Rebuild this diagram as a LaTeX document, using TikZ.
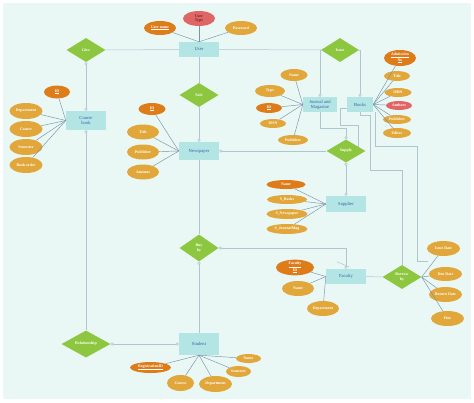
\documentclass[tikz,border=0pt]{standalone}
\usepackage{fontspec}
\setmainfont{Liberation Serif}
\usetikzlibrary{positioning,shapes.geometric,arrows.meta}
\tikzstyle{canvas} = [x = 1pt, y = -1pt]
\definecolor{pageColor}{RGB}{233,247,245}
\definecolor{entityColor}{RGB}{178,229,228}
\definecolor{entityText}{RGB}{52,98,170}
\definecolor{relColor}{RGB}{141,198,63}
\definecolor{attrColor}{RGB}{226,167,58}
\definecolor{keyColor}{RGB}{222,124,26}
\definecolor{multiColor}{RGB}{224,102,102}
\definecolor{typeText}{RGB}{110,30,30}
\definecolor{linkColor}{RGB}{176,198,206}
\definecolor{attrLineColor}{RGB}{120,148,168}
\tikzstyle{entityStyle} = [rectangle, fill=entityColor, text=entityText, inner sep=0pt, align=center, font=\fontsize{4.6}{5.2}\selectfont]
\tikzstyle{relStyle} = [diamond, fill=relColor, text=white, inner sep=0pt, align=center, font=\bfseries\fontsize{4}{4.6}\selectfont]
\tikzstyle{attrStyle} = [ellipse, fill=attrColor, text=white, inner sep=0pt, align=center, font=\bfseries\fontsize{3.9}{4.4}\selectfont]
\tikzstyle{keyStyle} = [attrStyle, fill=keyColor]
\tikzstyle{multiStyle} = [attrStyle, fill=multiColor]
\tikzstyle{linkLine} = [color=linkColor, line width=.5pt]
\tikzstyle{attrLine} = [color=attrLineColor, line width=.45pt]
\tikzstyle{ringEnd} = [-{Circle[open, length=3pt, width=3pt]}]
\tikzstyle{ringStart} = [{Circle[open, length=3pt, width=3pt]}-]
\tikzstyle{ringBoth} = [{Circle[open, length=3pt, width=3pt]}-{Circle[open, length=3pt, width=3pt]}]
% name, x, y, width, height, text
\newcommand{\entityBox}[6]{\node [entityStyle, minimum width=#4pt, minimum height=#5pt] (#1) at (#2, #3) {#6};}
\newcommand{\relDiamond}[6]{\node [relStyle, minimum width=#4pt, minimum height=#5pt] (#1) at (#2, #3) {#6};}
\newcommand{\attrOval}[6]{\node [attrStyle, minimum width=#4pt, minimum height=#5pt] (#1) at (#2, #3) {#6};}
\newcommand{\keyOval}[6]{\node [keyStyle, minimum width=#4pt, minimum height=#5pt] (#1) at (#2, #3) {#6};}
\newcommand{\multiOval}[6]{\node [multiStyle, minimum width=#4pt, minimum height=#5pt] (#1) at (#2, #3) {#6};}
\begin{document}
\begin{tikzpicture}[canvas]
  \useasboundingbox (0,0) rectangle (474,402);
  \fill [white] (0,0) rectangle (474,402);
  \fill [pageColor] (3,3) rectangle (471,399);
  % entities
  \entityBox{user}{199}{49.5}{40}{15}{User}
  \entityBox{courseBook}{86}{120.5}{40}{19}{Course\\book}
  \entityBox{newspaper}{199}{151}{40}{18}{Newspaper}
  \entityBox{journal}{320}{104.5}{34}{15}{Journal and\\Magazine}
  \entityBox{books}{360}{104.5}{26}{15}{Books}
  \entityBox{supplier}{346}{204}{40}{16}{Supplier}
  \entityBox{faculty}{346}{276.5}{40}{15}{Faculty}
  \entityBox{student}{199}{344}{40}{22}{Student}
  % relationships
  \relDiamond{give}{86}{50}{39}{24}{Give}
  \relDiamond{issue}{340}{50}{38}{24}{Issue}
  \relDiamond{sale}{199}{95}{39}{24}{Sale}
  \relDiamond{supply}{346}{151}{39}{23}{Supply}
  \relDiamond{buyBy}{199}{248}{39}{27}{Buy\\by}
  \relDiamond{borrowBy}{402}{277}{39}{24}{Borrow\\by}
  \relDiamond{relationship}{86}{344}{49}{27}{Relationship}
  % attributes
  \keyOval{userName}{160}{28}{32}{14}{\underline{User name}}
  \node [multiStyle, text=typeText, minimum width=32pt, minimum height=15pt] (userType) at (199,18.5) {User\\Type};
  \attrOval{password}{241}{28}{32}{14}{Password}
  \keyOval{cbId}{57}{92}{26}{13}{\underline{ID}}
  \attrOval{cbDept}{26}{111}{33}{16}{Department}
  \attrOval{cbCourse}{26}{129}{33}{16}{Course}
  \attrOval{cbSemester}{26}{147}{33}{16}{Semester}
  \attrOval{cbOrder}{26}{165}{33}{16}{Book order}
  \keyOval{npId}{152}{109}{27}{12}{\underline{ID}}
  \attrOval{npTitle}{143}{132}{32}{15}{Title}
  \attrOval{npPublisher}{143}{152}{32}{15}{Publisher}
  \attrOval{npAmount}{143}{172}{32}{15}{Amount}
  \attrOval{jName}{294}{75}{27}{12}{Name}
  \attrOval{jType}{270}{91}{30}{12}{Type}
  \keyOval{jId}{269}{108}{26}{10}{\underline{ID}}
  \attrOval{jIssn}{273}{123.5}{26}{9}{ISSN}
  \attrOval{jPublisher}{293}{140}{30}{10}{Publisher}
  \keyOval{bAdmission}{400}{58}{32}{16}{\underline{Admission}\\\underline{No}}
  \attrOval{bTitle}{397}{76}{26}{10}{Title}
  \attrOval{bIsbn}{398}{92.5}{27}{9}{ISBN}
  \multiOval{bAuthors}{399}{105.5}{26}{9}{Authors}
  \attrOval{bPublisher}{397}{119.5}{28}{9}{Publisher}
  \attrOval{bEditor}{397}{133}{28}{10}{Editor}
  \keyOval{sName}{286}{184.5}{39}{9}{Name}
  \attrOval{sBooks}{287}{199.5}{40}{9}{S\_Books}
  \attrOval{sNewspaper}{287}{214}{41}{10}{S\_Newspaper}
  \attrOval{sJournal}{287}{229}{41}{10}{S\_JournalMag}
  \keyOval{fId}{295}{267.5}{38}{15}{\underline{Faculty}\\\underline{ID}}
  \attrOval{fName}{298}{288.5}{32}{15}{Name}
  \attrOval{fDept}{323}{308.5}{32}{15}{Department}
  \attrOval{issueDate}{443.5}{248.5}{33}{15}{Issue Date}
  \attrOval{dueDate}{445.5}{274}{33}{14}{Due Date}
  \attrOval{returnDate}{445.5}{294.5}{33}{15}{Return Date}
  \attrOval{fine}{447.5}{318.5}{33}{15}{Fine}
  \keyOval{regId}{150.5}{367.5}{41}{11}{\underline{RegistrationID}}
  \attrOval{stCourse}{180.5}{383}{27}{16}{Course}
  \attrOval{stDept}{215.5}{384}{33}{16}{Department}
  \attrOval{stSemester}{238.5}{371.5}{25}{11}{Semester}
  \attrOval{stName}{248.5}{358.5}{25}{9}{Name}
  % attribute lines
  \foreach \a in {userName, userType, password} \draw [attrLine] (\a) -- (user.north);
  \foreach \a in {cbId, cbDept, cbCourse, cbSemester, cbOrder} \draw [attrLine] (\a) -- (courseBook.west);
  \foreach \a in {npId, npTitle, npPublisher, npAmount} \draw [attrLine] (\a) -- (newspaper.west);
  \foreach \a in {jName, jType, jId, jIssn, jPublisher} \draw [attrLine] (\a) -- (journal.west);
  \foreach \a in {bAdmission, bTitle, bIsbn, bAuthors, bPublisher, bEditor} \draw [attrLine] (\a) -- (books.east);
  \foreach \a in {sName, sBooks, sNewspaper, sJournal} \draw [attrLine] (\a) -- (supplier.west);
  \foreach \a in {fId, fName, fDept} \draw [attrLine] (\a) -- (faculty.west);
  \foreach \a in {issueDate, dueDate, returnDate, fine} \draw [attrLine] (\a) -- (borrowBy.east);
  \foreach \a in {regId, stCourse, stDept, stSemester, stName} \draw [attrLine] (\a) -- (student.south);
  % relationship lines
  \draw [linkLine] (give) -- (user);
  \draw [linkLine] (user) -- (issue);
  \draw [linkLine] (user) -- (sale);
  \draw [linkLine, ringEnd] (sale) -- (newspaper);
  \draw [linkLine, ringBoth] (give) -- (courseBook);
  \draw [linkLine, ringStart] (courseBook) -- (relationship);
  \draw [linkLine, ringBoth] (relationship) -- (student);
  \draw [linkLine] (newspaper) -- (buyBy);
  \draw [linkLine, ringStart] (buyBy) -- (student);
  \draw [linkLine, ringBoth] (buyBy.east) -| (faculty.north);
  \draw [linkLine] ([shift={(-9,-7)}]faculty.north) -- ([shift={(3,-2)}]faculty.north);
  \draw [linkLine, ringStart] (newspaper) -- (supply);
  \draw [linkLine, ringEnd] (issue.west) -| (journal.north);
  \draw [linkLine, ringEnd] (issue.east) -| (books.north);
  \draw [linkLine, ringEnd] (journal.south) -- ++(0,16) -| (supply.north);
  \draw [linkLine, ringBoth] (supply) -- (supplier);
  \draw [linkLine] (faculty) -- (borrowBy);
  \coordinate (supplyTap) at (358,146.6);
  \coordinate (borrowTap) at (428,261.5);
  \draw [linkLine] ([yshift=-4pt]books.west) -- ++(-7,0) -- ++(0,17) -| (supplyTap);
  \draw [linkLine] (books.south) -- ++(0,3.5) -| ++(10,55) -| (borrowBy.north);
  \draw [linkLine] ([xshift=2pt]books.south east) -- ++(0,34) -- ++(42,0) |- (borrowTap);
\end{tikzpicture}
\end{document}
